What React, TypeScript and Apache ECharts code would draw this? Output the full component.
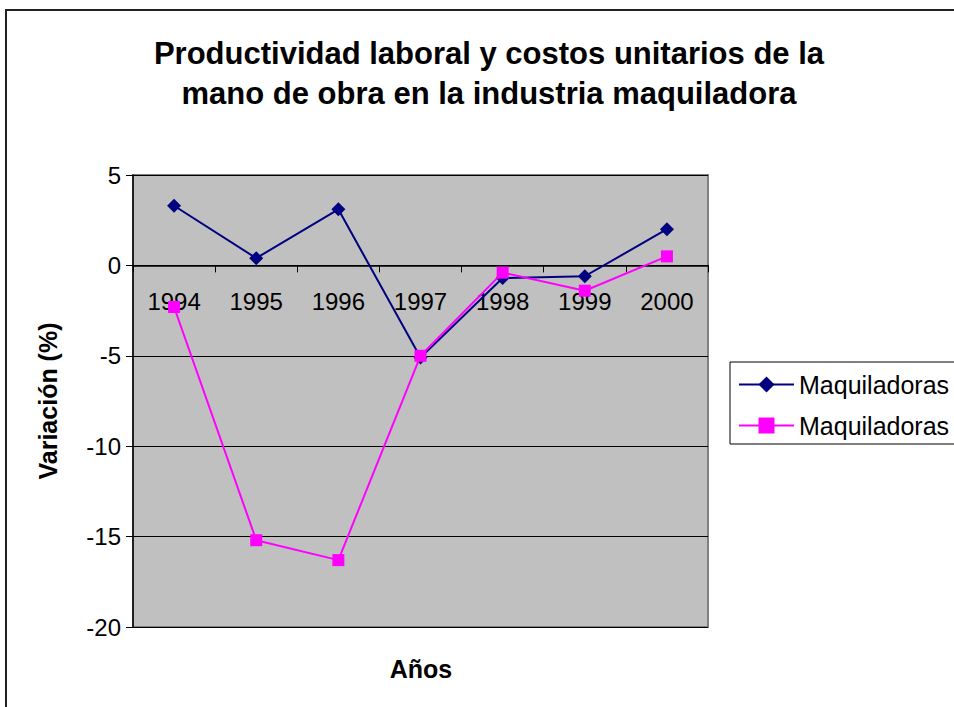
import React, { useEffect, useRef } from "react";
import * as echarts from "echarts";

const years = ["1994", "1995", "1996", "1997", "1998", "1999", "2000"];
const productividad = [3.3, 0.4, 3.1, -5.1, -0.7, -0.6, 2.0];
const costos = [-2.3, -15.2, -16.3, -5.0, -0.4, -1.4, 0.5];
const seriesNames = ["Maquiladoras", "Maquiladoras"];
const titleText = "Productividad laboral y costos unitarios de la\nmano de obra en la industria maquiladora";

const FONT = "'Liberation Sans', Arial, sans-serif";

export default function App() {
  const ref = useRef<HTMLDivElement>(null);
  useEffect(() => {
    if (!ref.current) return;
    const chart = echarts.init(ref.current, null, { renderer: "svg" });
    chart.setOption({
      animation: false,
      backgroundColor: "#ffffff",
      textStyle: { fontFamily: FONT },
      grid: {
        left: 133,
        top: 175,
        width: 575,
        height: 452,
        show: true,
        backgroundColor: "#C0C0C0",
        borderColor: "#808080",
        borderWidth: 2,
      },
      legend: {
        orient: "vertical",
        left: 730,
        top: 362,
        padding: [10, 30, 6, 8],
        itemWidth: 55,
        itemHeight: 20,
        itemGap: 16,
        borderColor: "#000000",
        borderWidth: 1,
        backgroundColor: "#ffffff",
        textStyle: { fontFamily: FONT, fontSize: 25, color: "#000", lineHeight: 24 },
        data: [{ name: "s1" }, { name: "s2" }],
        formatter: (n: string) => (n === "s1" ? seriesNames[0] : seriesNames[1]),
      },
      xAxis: {
        type: "category",
        data: years,
        boundaryGap: true,
        axisLine: { onZero: true, lineStyle: { color: "#000", width: 1.5 } },
        axisTick: { show: true, inside: false, length: 7, lineStyle: { color: "#000" } },
        axisLabel: { color: "#000", fontSize: 24, margin: -338, fontFamily: FONT },
        splitLine: { show: false },
      },
      yAxis: {
        type: "value",
        min: -20,
        max: 5,
        interval: 5,
        axisLine: { show: true, lineStyle: { color: "#000", width: 1.5 } },
        axisTick: { show: true, length: 7, lineStyle: { color: "#000" } },
        axisLabel: { color: "#000", fontSize: 24, margin: 12, fontFamily: FONT },
        splitLine: { show: true, lineStyle: { color: "#000", width: 1.2 } },
      },
      series: [
        {
          name: "s1",
          type: "line",
          data: productividad,
          symbol: "diamond",
          symbolSize: 14,
          itemStyle: { color: "#000080" },
          lineStyle: { color: "#000080", width: 2 },
          z: 3,
        },
        {
          name: "s2",
          type: "line",
          data: costos,
          symbol: "rect",
          symbolSize: 12,
          itemStyle: { color: "#FF00FF" },
          lineStyle: { color: "#FF00FF", width: 2 },
          z: 4,
        },
      ],
      graphic: [
        {
          type: "rect",
          shape: { x: 6, y: 10, width: 1100, height: 900 },
          style: { fill: "none", stroke: "#222", lineWidth: 2 },
          silent: true,
          z: 100,
        },
        {
          type: "text",
          style: {
            text: titleText,
            x: 489,
            y: 73,
            textAlign: "center",
            textVerticalAlign: "middle",
            font: `bold 31px ${FONT}`,
            lineHeight: 40,
            fill: "#000",
          },
        },
        {
          type: "text",
          style: {
            text: "Variación (%)",
            x: 0,
            y: 0,
            textAlign: "center",
            textVerticalAlign: "middle",
            font: `bold 25px ${FONT}`,
            fill: "#000",
          },
          x: 48,
          y: 401,
          rotation: Math.PI / 2,
        },
        {
          type: "text",
          style: {
            text: "Años",
            x: 421,
            y: 669,
            textAlign: "center",
            textVerticalAlign: "middle",
            font: `bold 25px ${FONT}`,
            fill: "#000",
          },
        },
      ],
    });
    return () => chart.dispose();
  }, []);
  return (
    <div
      ref={ref}
      style={{ position: "absolute", left: 0, top: 0, width: 954, height: 707 }}
    />
  );
}
